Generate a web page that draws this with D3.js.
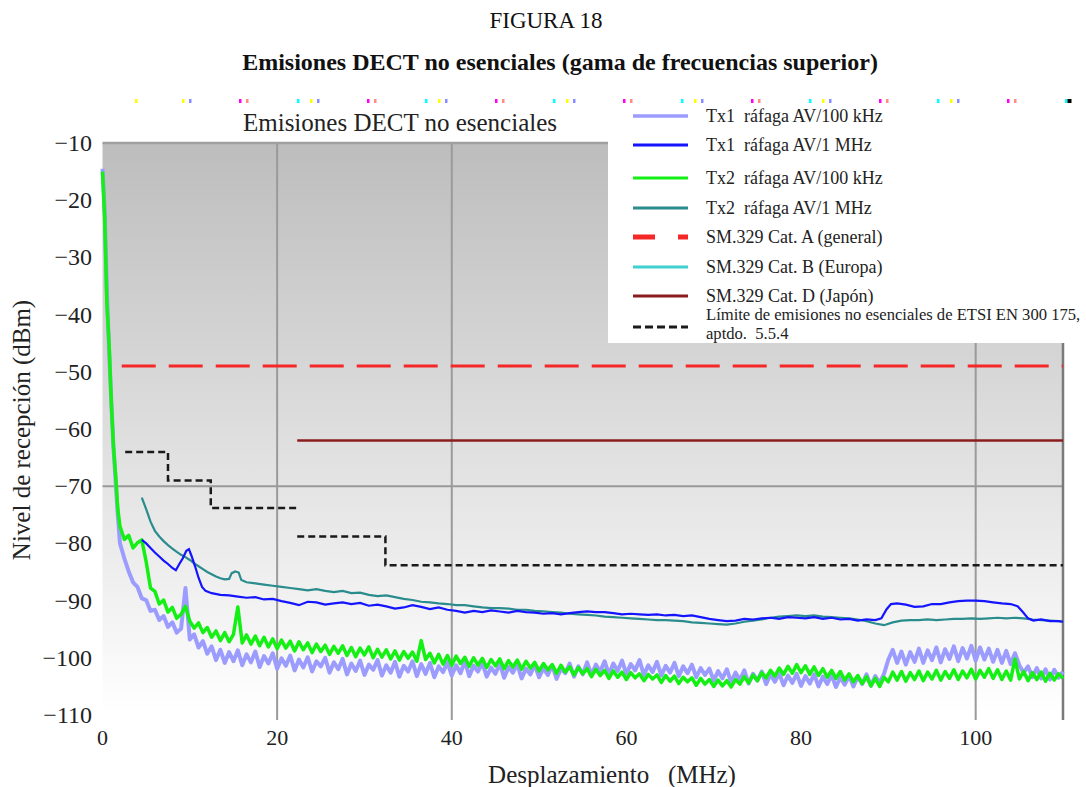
<!DOCTYPE html>
<html>
<head>
<meta charset="utf-8">
<script src="https://cdn.jsdelivr.net/npm/d3@7"></script>
<style>
  html, body { margin: 0; padding: 0; background: #fff; }
  svg { display: block; font-family: "Liberation Serif", "Times New Roman", serif; }
</style>
</head>
<body>
<svg id="chart" width="1086" height="787"></svg>
<script>
// ---- Axis ticks and grid ----
const xTicks = [0, 20, 40, 60, 80, 100];
const yTicks = [-10, -20, -30, -40, -50, -60, -70, -80, -90, -100, -110];
const xGridAt = [20, 40, 100];
const yGridAt = [-70];

// ---- 100 kHz bursts: head sampled every 0.25 MHz (0..1.75), body every 0.5 MHz from 2 MHz ----
const headStep = 0.25;
const bodyStart = 2;
const bodyStep = 0.5;

const tx1KhzHead = [-14.5, -22, -36, -46, -55, -63, -69, -75];
const tx1KhzBody = [
  -80.0, -82.6, -84.9, -86.8, -87.6, -89.6, -89.9, -91.8, -91.6, -93.4,
  -92.7, -94.6, -93.8, -95.6, -94.9, -87.8, -96.8, -95.9, -98.2, -97.1,
  -99.3, -98.0, -100.4, -98.6, -100.9, -99.0, -100.6, -98.7, -101.3, -99.4,
  -100.8, -98.9, -101.6, -99.7, -101.0, -99.2, -101.9, -100.1, -101.4, -99.6,
  -102.2, -100.3, -101.7, -99.9, -102.4, -100.6, -101.5, -100.0, -102.6, -100.8,
  -102.0, -100.2, -102.9, -101.0, -102.3, -100.5, -103.0, -101.2, -102.1, -100.4,
  -103.1, -101.3, -102.6, -100.7, -103.3, -101.4, -102.4, -100.6, -103.2, -101.1,
  -102.8, -100.9, -103.4, -101.5, -102.5, -100.8, -103.1, -101.3, -102.7, -100.6,
  -103.2, -101.4, -102.4, -100.9, -103.3, -101.7, -102.8, -101.0, -103.5, -101.6,
  -102.6, -101.1, -103.6, -101.9, -102.9, -101.2, -103.4, -101.8, -103.0, -101.3,
  -103.7, -101.9, -102.7, -101.0, -103.3, -101.5, -102.9, -100.8, -103.0, -101.2,
  -102.4, -100.6, -102.9, -101.0, -102.3, -100.5, -102.8, -101.1, -102.2, -100.4,
  -103.0, -101.3, -102.5, -100.7, -103.1, -101.4, -102.6, -100.9, -103.2, -101.5,
  -102.7, -101.2, -103.4, -101.8, -103.0, -101.9, -104.0, -102.3, -103.6, -102.0,
  -104.3, -102.6, -103.9, -102.2, -104.5, -102.8, -104.0, -102.4, -104.6, -102.9,
  -104.2, -102.7, -104.8, -103.1, -104.4, -102.8, -104.9, -103.2, -104.5, -102.9,
  -105.0, -103.3, -104.6, -103.0, -105.1, -103.4, -104.7, -103.1, -105.0, -103.3,
  -104.6, -102.9, -104.9, -103.2, -104.4, -102.8, -100.3, -98.6, -100.9, -98.9,
  -101.2, -99.0, -100.7, -98.4, -100.9, -98.7, -100.4, -98.2, -100.8, -98.5,
  -100.2, -98.0, -100.6, -98.3, -100.1, -97.9, -100.5, -98.2, -100.3, -98.4,
  -100.7, -98.6, -100.9, -98.8, -101.1, -99.2, -101.3, -102.6, -101.5, -103.4,
  -101.8, -103.6, -102.0, -103.8, -102.1, -103.5, -102.4
];

const tx2KhzHead = [-15, -23, -38, -45, -55, -63, -68, -74];
const tx2KhzBody = [
  -77.0, -79.3, -78.6, -80.8, -79.9, -79.4, -83.2, -87.8, -88.4, -90.6,
  -89.9, -92.0, -91.2, -93.1, -92.4, -91.0, -93.6, -94.8, -93.9, -95.6,
  -94.7, -96.4, -95.3, -97.0, -95.6, -97.2, -95.9, -91.1, -97.4, -96.0,
  -97.6, -96.2, -97.9, -96.4, -98.1, -96.7, -98.4, -96.9, -98.3, -97.1,
  -98.8, -97.2, -98.6, -97.4, -99.1, -97.6, -98.9, -97.8, -99.4, -98.0,
  -99.2, -97.9, -99.6, -98.2, -99.8, -98.3, -99.5, -98.1, -100.0, -98.5,
  -99.9, -98.6, -100.2, -98.8, -100.4, -98.9, -100.1, -99.0, -100.6, -97.0,
  -100.3, -99.2, -100.9, -99.4, -101.1, -99.6, -101.3, -99.7, -101.0, -99.9,
  -101.5, -100.0, -101.3, -100.1, -101.7, -100.3, -101.4, -100.2, -101.9, -100.5,
  -101.6, -100.4, -102.0, -100.6, -101.8, -100.8, -102.3, -101.0, -102.1, -101.2,
  -102.7, -101.3, -102.5, -101.6, -103.0, -101.7, -102.8, -101.9, -103.3, -102.0,
  -103.1, -102.2, -103.6, -102.3, -103.4, -102.5, -103.8, -102.6, -103.5, -102.8,
  -104.0, -102.9, -103.7, -103.0, -104.3, -103.1, -104.1, -103.2, -104.5, -103.4,
  -104.2, -103.5, -104.8, -103.6, -104.6, -103.8, -105.0, -103.9, -104.9, -104.0,
  -105.1, -103.8, -104.6, -103.3, -104.4, -103.0, -104.0, -102.6, -103.5, -102.2,
  -103.2, -101.8, -102.9, -101.5, -102.7, -101.2, -102.6, -101.4, -102.9, -101.6,
  -103.1, -101.9, -103.4, -102.2, -103.6, -102.4, -103.9, -102.8, -104.2, -103.1,
  -104.5, -103.3, -104.9, -103.6, -105.0, -103.4, -104.2, -102.5, -103.9, -102.4,
  -104.1, -102.6, -103.8, -102.3, -104.0, -102.5, -103.7, -102.2, -103.9, -102.4,
  -103.6, -102.1, -103.8, -102.3, -103.5, -102.0, -103.7, -102.2, -103.4, -101.9,
  -103.6, -102.1, -103.8, -102.3, -103.9, -100.2, -103.7, -102.4, -104.0, -102.6,
  -103.8, -102.5, -104.1, -102.7, -103.9, -102.8, -103.6
];

// ---- 1 MHz bursts ----
const tx1MhzFreq = [4.5, 5, 5.5, 6, 6.5, 7, 7.5, 8, 8.4, 8.8, 9.2, 9.6, 9.9, 10.2, 10.6, 11, 11.4, 11.8,
  12.5, 13.5, 14.5, 15.5, 16.5, 17.5, 18.5, 19.5, 20.5, 21.5, 22.5, 23.5, 24.5, 25.5, 26.5, 27.5, 28.5, 29.5,
  30.5, 31.5, 32.5, 33.5, 34.5, 35.5, 36.5, 37.5, 38.5, 39.5, 40.5, 41.5, 42.5, 43.5, 44.5, 45.5, 46.5, 47.5,
  48.5, 49.5, 50.5, 51.5, 52.5, 53.5, 54.5, 55.5, 56.5, 57.5, 58.5, 59.5, 60.5, 61.5, 62.5, 63.5, 64.5, 65.5,
  66.5, 67.5, 68.5, 69.5, 70.5, 71.5, 72.5, 73.5, 74.5, 75.5, 76.5, 77.5, 78.5, 79.5, 80.5, 81.5, 82.5, 83.5,
  84.5, 85.5, 86.5, 87.5, 88.5, 89.2, 89.8, 90.3, 91, 92, 93, 94, 95, 96, 97, 98, 99, 100, 101, 102, 103, 104,
  104.8, 105.4, 106, 106.6, 107.5, 108.5, 109.5, 110];
const tx1MhzLevel = [-79.4, -80.0, -80.8, -81.6, -82.3, -83.0, -83.6, -84.3, -84.7, -83.6, -82.6, -81.3, -81.0, -82.2, -84.0, -86.0, -87.6, -88.3,
  -88.7, -89.0, -89.1, -89.3, -89.5, -89.4, -89.8, -89.7, -90.1, -90.4, -90.8, -90.2, -90.3, -90.7, -90.5, -90.3, -90.6, -90.4,
  -90.9, -90.7, -91.0, -91.4, -91.2, -90.8, -91.1, -91.5, -91.2, -91.6, -91.8, -92.1, -91.8, -92.0, -91.7, -91.9, -92.1, -91.8,
  -92.0, -92.1, -92.3, -92.2, -92.4, -92.2, -92.0, -91.9, -92.0, -92.0, -92.2, -92.4, -92.3, -92.4, -92.5, -92.4, -92.6, -92.5,
  -92.7, -92.6, -92.9, -93.2, -93.4, -93.6, -93.5, -93.2, -93.3, -93.1, -93.0, -93.2, -92.9, -93.0, -93.1, -92.9, -93.2, -93.0,
  -93.3, -93.2, -93.5, -93.3, -93.4, -93.1, -91.5, -90.6, -90.5, -90.7, -91.1, -91.0, -90.6, -90.6, -90.3, -90.1, -90.0, -90.0, -90.1, -90.3, -90.5, -90.6,
  -91.0, -92.0, -93.1, -93.5, -93.3, -93.6, -93.6, -93.7];

const tx2MhzFreq = [4.5, 5, 5.5, 6, 6.5, 7, 7.5, 8, 8.5, 9, 9.5, 10, 10.5, 11, 11.5, 12, 12.5, 13, 13.5, 14, 14.5,
  14.8, 15.2, 15.6, 15.9, 16.5, 17.5, 18.5, 19.5, 20.5, 21.5, 22.5, 23.5, 24.5, 25.5, 26.5, 27.5, 28.5, 29.5,
  30.5, 31.5, 32.5, 33.5, 34.5, 35.5, 36.5, 37.5, 38.5, 39.5, 40.5, 41.5, 42.5, 43.5, 44.5, 45.5, 46.5, 47.5,
  48.5, 49.5, 50.5, 51.5, 52.5, 53.5, 54.5, 55.5, 56.5, 57.5, 58.5, 59.5, 60.5, 61.5, 62.5, 63.5, 64.5, 65.5,
  66.5, 67.5, 68.5, 69.5, 70.5, 71.5, 72.5, 73.5, 74.5, 75.5, 76.5, 77.5, 78.5, 79.5, 80.5, 81.5, 82.5, 83.5,
  84.5, 85.5, 86.5, 87.5, 88.5, 89.5, 90.5, 91.5, 92.5, 93.5, 94.5, 95.5, 96.5, 97.5, 98.5, 99.5, 100.5, 101.5,
  102.5, 103.5, 104.5, 105.5, 106.5, 107.5, 108.5, 109.5, 110];
const tx2MhzLevel = [-72.0, -74.0, -76.2, -77.8, -78.8, -79.6, -80.3, -80.9, -81.5, -82.0, -82.4, -82.9, -83.5, -84.0, -84.5, -85.0, -85.4, -85.8, -86.1, -86.3, -86.2,
  -85.2, -84.9, -85.1, -86.4, -86.8, -87.0, -87.2, -87.4, -87.6, -87.8, -88.0, -88.2, -88.0, -88.3, -88.5, -88.3, -88.7, -88.6,
  -89.0, -89.2, -89.1, -89.4, -89.7, -89.9, -90.2, -90.3, -90.5, -90.6, -90.8, -90.8, -91.0, -91.2, -91.3, -91.3, -91.4, -91.6,
  -91.6, -91.8, -91.9, -92.0, -92.1, -92.3, -92.4, -92.5, -92.6, -92.8, -92.9, -93.0, -93.1, -93.2, -93.3, -93.4, -93.4, -93.5,
  -93.6, -93.8, -93.9, -94.0, -94.1, -94.2, -94.0, -93.7, -93.5, -93.3, -93.0, -92.8, -92.7, -92.6, -92.7, -92.6, -92.8, -92.9,
  -93.0, -93.1, -93.3, -93.6, -94.0, -94.3, -93.8, -93.5, -93.4, -93.4, -93.3, -93.4, -93.3, -93.2, -93.2, -93.1, -93.2, -93.1,
  -93.0, -93.1, -93.0, -93.1, -93.3, -93.4, -93.5, -93.6, -93.7];

// ---- Limit masks ----
const catAFreq = [2.2, 110];
const catALevel = [-49, -49];
const catDFreq = [22.3, 110];
const catDLevel = [-62, -62];
const etsiFreq = [2.6, 7.5, 7.5, 12.4, 12.4, 22.3, null, 22.3, 32.4, 32.4, 110];
const etsiLevel = [-64, -64, -69, -69, -73.8, -73.8, null, -78.8, -78.8, -83.8, -83.8];

// ---- Legend ----
const legendLabels = [
  "Tx1  ráfaga AV/100 kHz",
  "Tx1  ráfaga AV/1 MHz",
  "Tx2  ráfaga AV/100 kHz",
  "Tx2  ráfaga AV/1 MHz",
  "SM.329 Cat. A (general)",
  "SM.329 Cat. B (Europa)",
  "SM.329 Cat. D (Japón)",
  "Límite de emisiones no esenciales de ETSI EN 300 175,"
];
const legendSecondLine = "aptdo.  5.5.4";
const legendColors = ["#9c9cff", "#1414ff", "#14f014", "#2a8c8c", "#f52828", "#40d0d0", "#8b1c1c", "#1a1a1a"];

// ---------------------------------------------------------------
const svg = d3.select("#chart");
const W = 1086, H = 787;
const plot = { left: 102.5, right: 1063, top: 143, bottom: 715 };

const x = d3.scaleLinear().domain([0, 110]).range([plot.left, plot.right]);
const y = d3.scaleLinear().domain([-110, -10]).range([plot.bottom, plot.top]);

const defs = svg.append("defs");
const grad = defs.append("linearGradient").attr("id", "bg").attr("x1", 0).attr("y1", 0).attr("x2", 0).attr("y2", 1);
grad.append("stop").attr("offset", "0%").attr("stop-color", "#bdbdbd");
grad.append("stop").attr("offset", "60%").attr("stop-color", "#e4e4e4");
grad.append("stop").attr("offset", "100%").attr("stop-color", "#ffffff");

svg.append("rect").attr("width", W).attr("height", H).attr("fill", "#fff");

// Plot background
svg.append("rect")
  .attr("x", plot.left).attr("y", plot.top)
  .attr("width", plot.right - plot.left).attr("height", plot.bottom - plot.top)
  .attr("fill", "url(#bg)");

// Grid
const grid = svg.append("g").attr("stroke", "#9a9a9a").attr("stroke-width", 2);
grid.selectAll("line.v").data(xGridAt).join("line")
  .attr("x1", d => x(d)).attr("x2", d => x(d))
  .attr("y1", plot.top).attr("y2", plot.bottom + 5);
grid.selectAll("line.h").data(yGridAt).join("line")
  .attr("x1", plot.left).attr("x2", plot.right)
  .attr("y1", d => y(d)).attr("y2", d => y(d));
// top frame
svg.append("line")
  .attr("x1", plot.left).attr("x2", plot.right)
  .attr("y1", plot.top).attr("y2", plot.top)
  .attr("stroke", "#a0a0a0").attr("stroke-width", 2.5);
// right frame
svg.append("line")
  .attr("x1", plot.right).attr("x2", plot.right)
  .attr("y1", plot.top).attr("y2", plot.bottom + 5)
  .attr("stroke", "#7a7a7a").attr("stroke-width", 2.5);

const line = d3.line()
  .defined(d => d[0] !== null && d[1] !== null)
  .x(d => x(d[0])).y(d => y(d[1]));

const zipPairs = (fs, vs) => fs.map((f, i) => [f, vs[i]]);
const sampled = (head, body) =>
  head.map((v, i) => [i * headStep, v]).concat(body.map((v, i) => [bodyStart + i * bodyStep, v]));

// Limit masks
svg.append("path").datum(zipPairs(catAFreq, catALevel))
  .attr("d", line).attr("fill", "none")
  .attr("stroke", legendColors[4]).attr("stroke-width", 3).attr("stroke-dasharray", "34,13");
svg.append("path").datum(zipPairs(catDFreq, catDLevel))
  .attr("d", line).attr("fill", "none")
  .attr("stroke", legendColors[6]).attr("stroke-width", 2.5);
svg.append("path").datum(zipPairs(etsiFreq, etsiLevel))
  .attr("d", line).attr("fill", "none")
  .attr("stroke", legendColors[7]).attr("stroke-width", 2.5).attr("stroke-dasharray", "7,4");

// Measured traces
svg.append("path").datum(sampled(tx1KhzHead, tx1KhzBody))
  .attr("d", line).attr("fill", "none")
  .attr("stroke", legendColors[0]).attr("stroke-width", 4).attr("stroke-linejoin", "round");
svg.append("path").datum(sampled(tx2KhzHead, tx2KhzBody))
  .attr("d", line).attr("fill", "none")
  .attr("stroke", legendColors[2]).attr("stroke-width", 3.5).attr("stroke-linejoin", "round");
svg.append("path").datum(zipPairs(tx2MhzFreq, tx2MhzLevel))
  .attr("d", line).attr("fill", "none")
  .attr("stroke", legendColors[3]).attr("stroke-width", 2.2);
svg.append("path").datum(zipPairs(tx1MhzFreq, tx1MhzLevel))
  .attr("d", line).attr("fill", "none")
  .attr("stroke", legendColors[1]).attr("stroke-width", 2.2);

// Legend box
const lg = svg.append("g");
lg.append("rect").attr("x", 608).attr("y", 104).attr("width", W - 608).attr("height", 239).attr("fill", "#fff");
const rowY = [116, 145, 178, 208, 237, 267, 296, 327];
const dashes = [null, null, null, null, "22,23", null, null, "8,4"];
const widths = [3.5, 3, 3, 3, 5, 3, 3, 3];
legendLabels.forEach((lab, i) => {
  lg.append("line")
    .attr("x1", 633).attr("x2", 688)
    .attr("y1", rowY[i]).attr("y2", rowY[i])
    .attr("stroke", legendColors[i]).attr("stroke-width", widths[i])
    .attr("stroke-dasharray", dashes[i]);
  const small = i === 7;
  lg.append("text")
    .attr("x", 706).attr("y", small ? rowY[i] - 7 : rowY[i] + 6)
    .attr("font-size", small ? 16.6 : 18).attr("fill", "#222")
    .style("white-space", "pre")
    .text(lab);
});
lg.append("text").attr("x", 706).attr("y", rowY[7] + 12)
  .attr("font-size", 16.6).attr("fill", "#222").style("white-space", "pre").text(legendSecondLine);

// Dotted colour strip along the top edge
const stripColors = ["#00ffff", "#ffff00", "#8c8cff", "#ff00ff", "#ff8c8c"];
const stripOffsets = [0, 13, 20, 70, 77];
const strip = svg.append("g");
strip.append("rect").attr("x", 135).attr("y", 99).attr("width", 2.5).attr("height", 4).attr("fill", stripColors[1]);
d3.range(7).forEach(k => {
  const base = 169 + 128 * k;
  stripOffsets.forEach((o, j) => {
    if (k === 0 && j === 0) return;
    strip.append("rect").attr("x", base + o).attr("y", 99).attr("width", 2.5).attr("height", 4).attr("fill", stripColors[j]);
  });
});
strip.append("rect").attr("x", 1065).attr("y", 99).attr("width", 2.5).attr("height", 4).attr("fill", stripColors[0]);
strip.append("rect").attr("x", 1067.5).attr("y", 99).attr("width", 4).attr("height", 4).attr("fill", "#000");

// Axes labels
svg.append("g").selectAll("text").data(yTicks).join("text")
  .attr("x", 92).attr("y", d => y(d) + 8)
  .attr("text-anchor", "end").attr("font-size", 24).attr("fill", "#222")
  .text(d => d3.format("")(d).replace("-", "−"));

svg.append("g").selectAll("text").data(xTicks).join("text")
  .attr("x", d => x(d)).attr("y", 745)
  .attr("text-anchor", "middle").attr("font-size", 22).attr("fill", "#222")
  .text(d => d);

svg.append("text")
  .attr("transform", `translate(30,${430}) rotate(-90)`)
  .attr("text-anchor", "middle").attr("font-size", 25).attr("fill", "#222")
  .text("Nivel de recepción (dBm)");

svg.append("text")
  .attr("x", 612).attr("y", 783)
  .attr("text-anchor", "middle").attr("font-size", 25).attr("fill", "#222")
  .style("white-space", "pre")
  .text("Desplazamiento   (MHz)");

svg.append("text")
  .attr("x", 400).attr("y", 131)
  .attr("text-anchor", "middle").attr("font-size", 25).attr("fill", "#222")
  .text("Emisiones DECT no esenciales");

// Figure titles
svg.append("text").attr("x", 546).attr("y", 28)
  .attr("text-anchor", "middle").attr("font-size", 23).attr("fill", "#111")
  .text("FIGURA 18");
svg.append("text").attr("x", 560).attr("y", 70)
  .attr("text-anchor", "middle").attr("font-size", 24).attr("font-weight", "bold").attr("fill", "#111")
  .text("Emisiones DECT no esenciales (gama de frecuencias superior)");
</script>
</body>
</html>
